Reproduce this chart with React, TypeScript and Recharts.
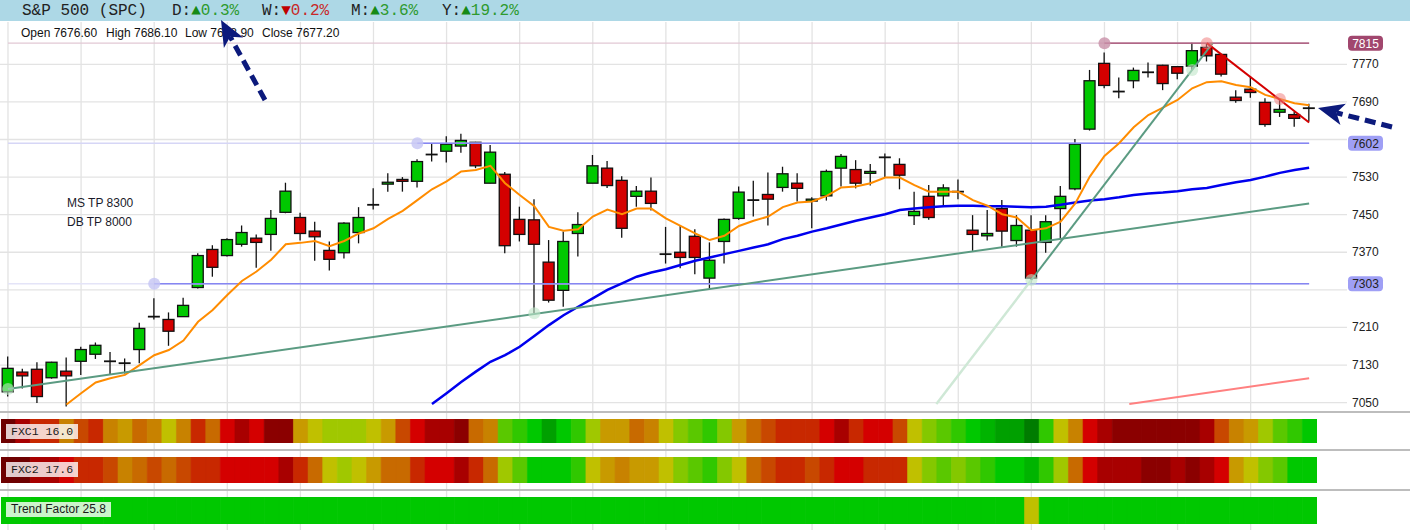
import React from "react";
import {
  ComposedChart,
  BarChart,
  Bar,
  Line,
  XAxis,
  YAxis,
  CartesianGrid,
  ReferenceLine,
  ReferenceDot,
  Cell,
} from "recharts";

// ---------------- DATA ----------------
const opens = [7073,7115,7121,7103,7117,7138,7153,7138,7134,7163,
7233,7227,7233,7295,7376,7363,7387,7400,7408,7455,
7444,7415,7374,7369,7412,7471,7515,7525,7521,7578,
7585,7596,7604,7517,7536,7440,7439,7349,7289,7410,
7517,7549,7523,7489,7500,7366,7370,7404,7315,7393,
7442,7481,7493,7508,7517,7479,7490,7549,7546,7538,
7572,7557,7448,7489,7490,7499,7417,7405,7463,7395,
7417,7391,7463,7505,7632,7772,7712,7735,7753,7768,
7765,7766,7806,7791,7700,7717,7689,7668,7663,7676.6];

const highs = [7148,7122,7136,7137,7146,7169,7178,7158,7144,7220,
7272,7242,7273,7368,7385,7400,7427,7408,7460,7518,
7454,7435,7393,7434,7466,7506,7538,7530,7568,7602,
7617,7622,7605,7598,7541,7467,7483,7396,7414,7455,
7577,7564,7532,7511,7529,7424,7428,7419,7391,7442,
7510,7522,7540,7552,7538,7487,7546,7579,7566,7558,
7580,7570,7499,7513,7515,7525,7449,7460,7481,7449,
7449,7449,7511,7611,7758,7795,7742,7763,7774,7769,
7766,7816,7815,7792,7715,7744,7698,7698,7669,7686.1];

const lows = [7063,7080,7049,7101,7042,7109,7143,7111,7112,7134,
7227,7171,7232,7293,7318,7361,7382,7337,7373,7453,
7395,7352,7331,7357,7389,7461,7499,7499,7508,7563,
7561,7582,7549,7517,7368,7393,7240,7263,7254,7361,
7517,7507,7401,7467,7459,7346,7336,7323,7293,7346,
7439,7446,7427,7499,7478,7421,7480,7510,7506,7512,
7529,7504,7428,7439,7467,7483,7373,7395,7382,7382,
7306,7369,7400,7502,7629,7719,7698,7719,7742,7715,
7738,7758,7776,7744,7688,7699,7637,7658,7637,7648.9];

const closes = [7123,7107,7063,7136,7107,7163,7172,7138,7134,7208,
7233,7202,7257,7363,7338,7397,7412,7391,7442,7500,
7410,7403,7355,7432,7444,7471,7519,7521,7563,7578,
7600,7608,7554,7583,7384,7408,7387,7268,7393,7429,
7554,7512,7421,7500,7474,7366,7359,7359,7353,7440,
7498,7481,7483,7537,7506,7483,7542,7574,7517,7542,
7572,7534,7457,7444,7507,7499,7408,7410,7415,7427,
7315,7435,7489,7600,7735,7725,7712,7757,7753,7729,
7751,7799,7788,7749,7693,7710,7642,7674,7655,7677.2];

const fastMAStart = 4;
const fastMA = [7046,7070,7093,7102,7109,7130,7151,7162,7182,7222,
7247,7279,7309,7329,7354,7387,7390,7394,7383,7394,
7410,7421,7441,7458,7481,7504,7521,7542,7545,7554,
7517,7492,7468,7424,7416,7419,7446,7461,7451,7463,
7463,7442,7426,7410,7396,7405,7426,7437,7446,7466,
7476,7478,7490,7508,7510,7517,7529,7529,7513,7499,
7499,7499,7481,7469,7451,7444,7417,7421,7435,7474,
7531,7575,7602,7636,7662,7678,7694,7719,7732,7734,
7726,7721,7705,7696,7687,7683];

const slowMAStart = 29;
const slowMA = [7047,7070,7094,7116,7137,7151,7169,7192,7215,7236,
7254,7272,7290,7304,7318,7327,7334,7343,7352,7359,
7366,7373,7380,7387,7398,7405,7414,7421,7429,7437,
7444,7451,7460,7463,7466,7468,7469,7469,7468,7468,
7467,7466,7467,7471,7476,7480,7483,7487,7492,7495,
7497,7500,7504,7507,7513,7519,7524,7531,7539,7545,
7550];

const priceTicks = [7050, 7130, 7210, 7370, 7450, 7530, 7690, 7770];
const gridPrices = [7050, 7130, 7210, 7290, 7370, 7450, 7530, 7610, 7690, 7770];
const gridCandles = [0, 5, 10, 15, 20, 25, 30, 35, 40, 45, 50, 55, 60, 65, 70, 75, 80, 85];

const levelValues = [7815, 7602, 7303];
const levelAnchors = [75, 28, 10];

const supportLine = [{ x: 0, y: 7079 }, { x: 89, y: 7474 }];
const channelLine = [{ x: 76.7, y: 7047 }, { x: 89, y: 7102 }];
const riseLineBack = [{ x: 63.5, y: 7047 }, { x: 70, y: 7311 }];
const riseLine = [{ x: 70, y: 7311 }, { x: 82.4, y: 7815 }];
const fallLine = [{ x: 82, y: 7815 }, { x: 89, y: 7646 }];
const touchDots = [{ x: 0, y: 7079 }, { x: 36, y: 7240 }, { x: 70, y: 7311 }, { x: 81, y: 7758 }];
const topDots = [{ x: 82, y: 7815 }, { x: 87, y: 7696 }];

const fxc1 = [0,2,4,4,7,5,4,7,8,6,
7,9,7,4,6,3,2,3,1,1,
8,9,10,10,10,9,8,5,3,2,
2,1,6,7,12,13,14,16,14,13,
10,8,8,6,7,9,11,12,13,11,
8,6,5,4,4,4,3,2,4,3,
3,5,9,11,12,13,14,15,16,16,
17,13,9,7,3,2,1,1,1,1,
1,1,2,5,7,8,10,12,13,14];

const fxc2 = [0,0,2,2,3,4,4,5,7,6,
5,6,5,4,4,3,3,3,3,2,
4,6,9,10,9,8,6,6,4,3,
3,2,4,6,10,12,14,14,14,13,
9,8,7,8,8,9,11,12,13,11,
9,6,5,4,4,5,4,3,3,4,
4,4,9,11,12,11,12,13,14,14,
15,13,10,6,3,2,2,2,1,1,
2,1,2,3,8,9,11,12,14,14];

const trendFactor = [14,14,14,14,14,14,14,14,14,14,
14,14,14,14,14,14,14,14,14,14,
14,14,14,14,14,14,14,14,14,14,
14,14,14,14,14,14,14,14,14,14,
14,14,14,14,14,14,14,14,14,14,
14,14,14,14,14,14,14,14,14,14,
14,14,14,14,14,14,14,14,14,14,
9,14,14,14,14,14,14,14,14,14,
14,14,14,14,14,14,14,14,14,14];

const headerChanges = [
  { label: "D:", up: true, value: "0.3%" },
  { label: "W:", up: false, value: "0.2%" },
  { label: "M:", up: true, value: "3.6%" },
  { label: "Y:", up: true, value: "19.2%" },
];
const ohlcLabels = ["Open 7676.60", "High 7686.10", "Low 7648.90", "Close 7677.20"];
const notes = ["MS TP 8300", "DB TP 8000"];
const stripNames = ["FXC1 16.0", "FXC2 17.6", "Trend Factor 25.8"];

// ---------------- STYLES ----------------
const palette = [
  "#6e0000", "#8b0000", "#a80000", "#d40000", "#c82800", "#c84800",
  "#c86a00", "#c88200", "#c89a00", "#c0c000", "#a0c800", "#84c800",
  "#5ac800", "#30c800", "#00c800", "#00b400", "#00a000", "#007c00",
];
const levelDark = ["#9c4068", "#8686f2", "#8686f2"];
const levelPale = ["#e2c8d4", "#d6d6f6", "#e4e4f8"];
const levelDot = ["#c890a8", "#c4c4f4", "#c4c4f4"];
const badgeFill = ["#9c3d66", "#9a9af4", "#9a9af4"];
const badgeText = ["#ffffff", "#222222", "#222222"];
const headerXs = [172, 262, 351, 442];
const ohlcXs = [21, 106, 185, 262];
const SANS = '"Liberation Sans", Arial, sans-serif';
const MONO = '"Liberation Mono", "Courier New", monospace';

const candles = opens.map((o, i) => ({
  i,
  o,
  h: highs[i],
  l: lows[i],
  c: closes[i],
  range: [lows[i], highs[i]],
  fast: i >= fastMAStart ? fastMA[i - fastMAStart] : null,
  slow: i >= slowMAStart ? slowMA[i - slowMAStart] : null,
}));

const Candle = (props: any) => {
  const { x, y, width, height, payload } = props;
  if (payload == null || x == null) return null;
  const { o, h, l, c } = payload;
  const top = Math.min(y, y + height);
  const hh = Math.abs(height);
  const cx = x + width / 2;
  const k = hh / (h - l || 1);
  const py = (v: number) => top + (h - v) * k;
  const doji = Math.abs(c - o) < 1.5;
  const bw = 11;
  const up = c >= o;
  return (
    <g>
      <line x1={cx} x2={cx} y1={top} y2={top + hh} stroke="#111" strokeWidth={1.3} />
      {doji ? (
        <line x1={cx - 6} x2={cx + 6} y1={py(o)} y2={py(o)} stroke="#111" strokeWidth={1.8} />
      ) : (
        <rect
          x={cx - bw / 2}
          y={py(Math.max(o, c))}
          width={bw}
          height={Math.max(1.5, Math.abs(o - c) * k)}
          fill={up ? "#00c800" : "#d40000"}
          stroke="#111"
          strokeWidth={1.3}
        />
      )}
    </g>
  );
};

const PriceTick = (props: any) => {
  const { x, y, payload } = props;
  const v = payload.value;
  const li = levelValues.indexOf(v);
  if (li >= 0) {
    return (
      <g>
        <rect x={x - 4} y={y - 7.5} width={35} height={15} rx={4} fill={badgeFill[li]} fillOpacity={0.95} />
        <text x={x + 13.5} y={y + 0.5} textAnchor="middle" dominantBaseline="central" fontSize={12} fontFamily={SANS} fill={badgeText[li]}>
          {String(v)}
        </text>
      </g>
    );
  }
  return (
    <text x={x} y={y} textAnchor="start" dominantBaseline="central" fontSize={12} fontFamily={SANS} fill="#222">
      {String(v)}
    </text>
  );
};

function Strip({ levels, top, height }: { levels: number[]; top: number; height: number }) {
  const data = levels.map((lv, i) => ({ i, v: 1, lv }));
  return (
    <div style={{ position: "absolute", left: 0.7, top, width: 1316, height }}>
      <BarChart width={1316} height={height} data={data} margin={{ top: 0, right: 0, bottom: 0, left: 0 }} barCategoryGap={0} barGap={0}>
        <XAxis dataKey="i" hide />
        <YAxis hide domain={[0, 1]} />
        <Bar dataKey="v" isAnimationActive={false}>
          {data.map((d) => (
            <Cell key={d.i} fill={palette[d.lv]} stroke={palette[d.lv]} strokeWidth={0.6} />
          ))}
        </Bar>
      </BarChart>
    </div>
  );
}

const labelBox = (top: number, text: string, mono: boolean) => (
  <div
    style={{
      position: "absolute",
      left: 6,
      top,
      height: 15,
      lineHeight: "15px",
      padding: "0 5px",
      background: "rgba(255,255,255,0.8)",
      fontFamily: mono ? MONO : SANS,
      fontSize: mono ? 11.5 : 12,
      color: "#1a1a1a",
      whiteSpace: "pre",
    }}
  >
    {text}
  </div>
);

const Arrow = ({ tail, tip }: { tail: [number, number]; tip: [number, number] }) => {
  const dx = tip[0] - tail[0];
  const dy = tip[1] - tail[1];
  const len = Math.hypot(dx, dy);
  const ux = dx / len;
  const uy = dy / len;
  const px = -uy;
  const py = ux;
  const hl = 26;
  const hw = 11;
  const bx = tip[0] - ux * hl;
  const by = tip[1] - uy * hl;
  const nx = tip[0] - ux * (hl - 7);
  const ny = tip[1] - uy * (hl - 7);
  const pts = [
    [tip[0], tip[1]],
    [bx + px * hw, by + py * hw],
    [nx, ny],
    [bx - px * hw, by - py * hw],
  ]
    .map((p) => p.join(","))
    .join(" ");
  return (
    <g>
      <line x1={tail[0]} y1={tail[1]} x2={nx} y2={ny} stroke="#0c1a7c" strokeWidth={5} strokeDasharray="11 6" />
      <polygon points={pts} fill="#0c1a7c" />
    </g>
  );
};

export default function App() {
  return (
    <div style={{ position: "absolute", left: 0, top: 0, width: 1410, height: 530, background: "#fff", overflow: "hidden" }}>
      <div style={{ position: "absolute", left: 0, top: 22 }}>
        <ComposedChart width={1410} height={508} data={candles} margin={{ top: 0, right: 0, bottom: 0, left: 0 }}>
          <CartesianGrid horizontalValues={gridPrices} verticalValues={gridCandles} stroke="#e3e3e3" strokeWidth={1.3} />
          <XAxis dataKey="i" type="number" domain={[-0.547, 91.59]} allowDataOverflow hide />
          <YAxis
            orientation="right"
            type="number"
            domain={[6779, 7860]}
            allowDataOverflow
            ticks={[...priceTicks, ...levelValues]}
            interval={0}
            tick={<PriceTick />}
            tickSize={0}
            tickMargin={5}
            axisLine={false}
            tickLine={false}
            width={63}
          />
          {levelValues.map((v, k) => (
            <ReferenceLine key={"p" + k} segment={[{ x: 0, y: v }, { x: 89, y: v }]} stroke={levelPale[k]} strokeWidth={1.3} ifOverflow="visible" />
          ))}
          {levelValues.map((v, k) => (
            <ReferenceLine key={"d" + k} segment={[{ x: levelAnchors[k], y: v }, { x: 89, y: v }]} stroke={levelDark[k]} strokeWidth={1.3} ifOverflow="visible" />
          ))}
          <ReferenceLine segment={riseLineBack} stroke="#cfe8d6" strokeWidth={2.5} ifOverflow="visible" />
          <Bar dataKey="range" barSize={12} shape={(p: any) => <Candle {...p} />} isAnimationActive={false} />
          <Line dataKey="slow" stroke="#0000ee" strokeWidth={2.5} dot={false} activeDot={false} isAnimationActive={false} />
          <Line dataKey="fast" stroke="#ff8c00" strokeWidth={2} dot={false} activeDot={false} isAnimationActive={false} />
          <ReferenceLine segment={supportLine} stroke="#5b9b82" strokeWidth={2} ifOverflow="visible" />
          <ReferenceLine segment={riseLine} stroke="#5b9b82" strokeWidth={2} ifOverflow="visible" />
          <ReferenceLine segment={fallLine} stroke="#d40000" strokeWidth={2} ifOverflow="visible" />
          <ReferenceLine segment={channelLine} stroke="#ff8080" strokeWidth={2} ifOverflow="visible" />
          {levelValues.map((v, k) => (
            <ReferenceDot key={"ld" + k} x={levelAnchors[k]} y={v} r={6} fill={levelDot[k]} fillOpacity={0.8} stroke="none" ifOverflow="visible" />
          ))}
          {touchDots.map((d, k) => (
            <ReferenceDot key={"td" + k} x={d.x} y={d.y} r={6} fill="#bfe6c8" fillOpacity={0.6} stroke="none" ifOverflow="visible" />
          ))}
          {topDots.map((d, k) => (
            <ReferenceDot key={"tp" + k} x={d.x} y={d.y} r={6} fill="#f08080" fillOpacity={0.55} stroke="none" ifOverflow="visible" />
          ))}
        </ComposedChart>
      </div>

      {/* header bar */}
      <div style={{ position: "absolute", left: 0, top: 0, width: 1410, height: 21, background: "#add8e6" }}>
        <span style={{ position: "absolute", left: 22, top: 1, lineHeight: "21px", fontFamily: MONO, fontSize: 16, color: "#222", whiteSpace: "pre" }}>
          {"S&P 500 (SPC)"}
        </span>
        {headerChanges.map((h, k) => (
          <span key={k} style={{ position: "absolute", left: headerXs[k], top: 1, lineHeight: "21px", fontFamily: MONO, fontSize: 16, color: "#222", whiteSpace: "pre" }}>
            {h.label}
            <span style={{ color: h.up ? "#168a16" : "#c00000" }}>{h.up ? "\u25B2" : "\u25BC"}</span>
            <span style={{ color: h.up ? "#2e9a2e" : "#c82828" }}>{h.value}</span>
          </span>
        ))}
      </div>

      {ohlcLabels.map((t, k) => (
        <div key={k} style={{ position: "absolute", left: ohlcXs[k], top: 26, lineHeight: "14px", fontFamily: SANS, fontSize: 12, color: "#111", whiteSpace: "pre" }}>
          {t}
        </div>
      ))}

      {notes.map((t, k) => (
        <div key={k} style={{ position: "absolute", left: 67, top: 196 + k * 19, lineHeight: "14px", fontFamily: SANS, fontSize: 12, color: "#1a1a2a", whiteSpace: "pre" }}>
          {t}
        </div>
      ))}

      {/* separators */}
      {[410.5, 448.7, 489].map((t, k) => (
        <div key={k} style={{ position: "absolute", left: 0, top: t, width: 1410, height: 2, background: "#bdbdbd" }} />
      ))}

      <Strip levels={fxc1} top={419} height={24} />
      <Strip levels={fxc2} top={457} height={26} />
      <Strip levels={trendFactor} top={497} height={27} />

      {labelBox(424, stripNames[0], true)}
      {labelBox(462, stripNames[1], true)}
      {labelBox(502, stripNames[2], false)}

      <svg width={1410} height={530} style={{ position: "absolute", left: 0, top: 0, pointerEvents: "none" }}>
        <Arrow tail={[265, 100]} tip={[221, 20]} />
        <Arrow tail={[1392, 127]} tip={[1318, 108]} />
      </svg>
    </div>
  );
}
